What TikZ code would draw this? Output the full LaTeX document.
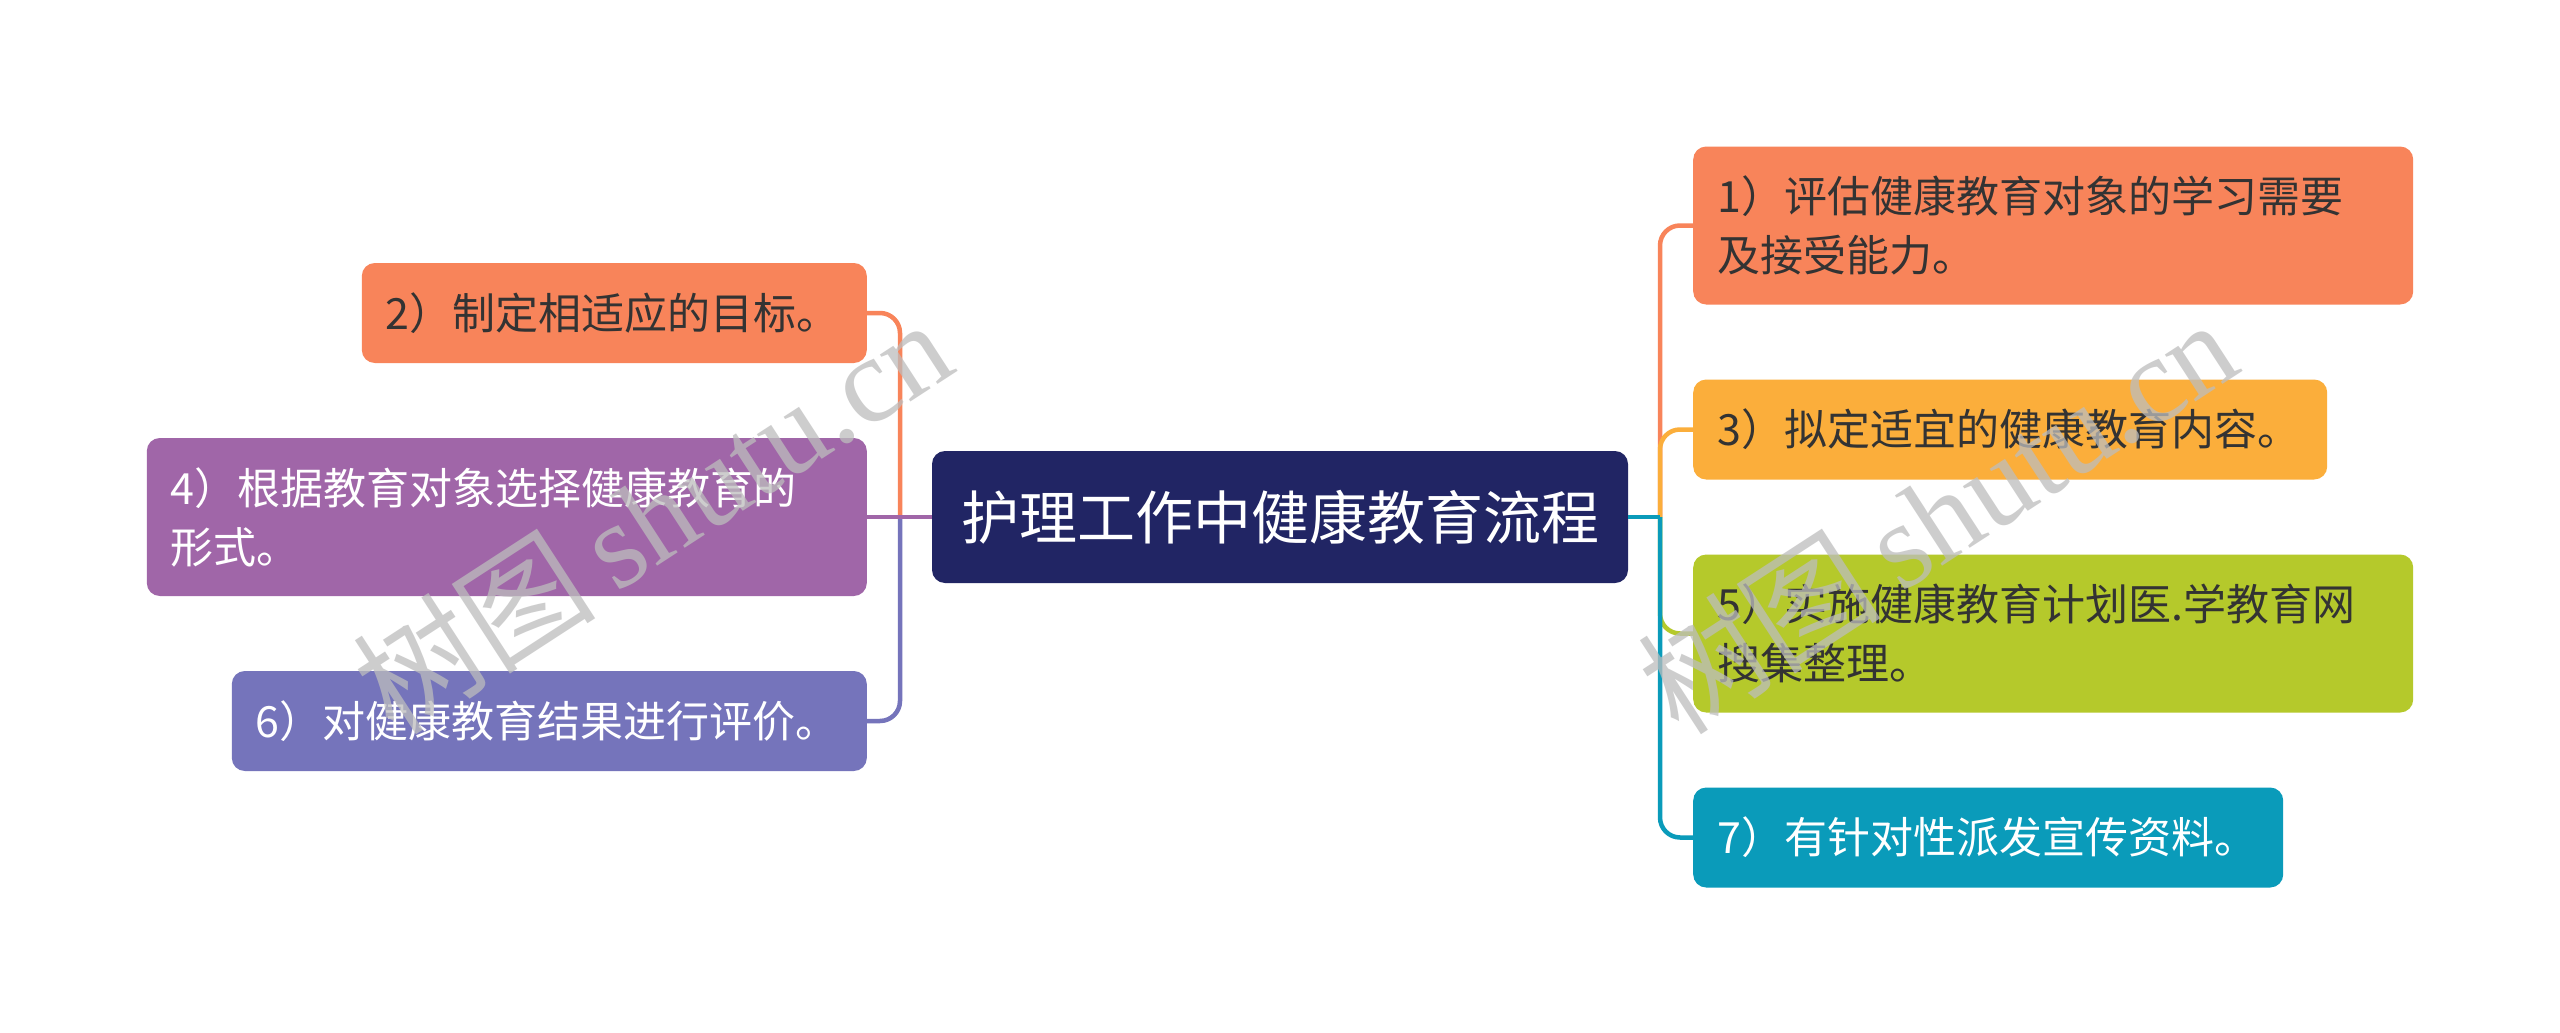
\documentclass[tikz,border=0pt]{standalone}
\usepackage{fontspec}
\setmainfont{Noto Sans CJK SC}
\newfontfamily\wmlatin{Liberation Serif}
\newfontfamily\wmcjk{Noto Sans CJK SC}
\definecolor{cnavy}{HTML}{212564}
\definecolor{corange}{HTML}{F8845A}
\definecolor{cyellow}{HTML}{FBAE3B}
\definecolor{cgreen}{HTML}{B5C92B}
\definecolor{cteal}{HTML}{0A9BBA}
\definecolor{cpurple}{HTML}{A066A8}
\definecolor{cviolet}{HTML}{7574BB}
\definecolor{ctext}{HTML}{333333}
\definecolor{cwm}{HTML}{BDBDBD}
\tikzset{
  box/.style={rounded corners=13pt, inner xsep=24pt, inner ysep=8pt, align=left,
              font=\fontsize{43}{59}\selectfont},
  rbox/.style={box, anchor=west},
  lbox/.style={box, anchor=east},
  link/.style={line width=4.5pt, rounded corners=20pt},
  wm/.style={text=cwm, opacity=0.75, rotate=33, font=\fontsize{122}{122}\selectfont}
}
\begin{document}
\begin{tikzpicture}[x=1pt,y=-1pt]
\useasboundingbox (0,0) rectangle (2560,1033);
\fill[white] (0,0) rectangle (2560,1033);

% central node
\node[rounded corners=13pt, fill=cnavy, text=white, minimum width=696pt, minimum height=132pt,
      font=\fontsize{58}{70}\selectfont] (c) at (1280,517) {护理工作中健康教育流程};

% junctions
\coordinate (jl) at (900,517);
\coordinate (jr) at (1660,517);

% right nodes
\node[rbox, fill=corange, text=ctext, text width=672pt, minimum height=158pt] (n1) at (1693,225.5)
  {1）评估健康教育对象的学习需要\\及接受能力。};
\node[rbox, fill=cyellow, text=ctext, text width=586pt, minimum height=100pt] (n3) at (1693,429.5)
  {3）拟定适宜的健康教育内容。};
\node[rbox, fill=cgreen, text=ctext, text width=672pt, minimum height=158pt] (n5) at (1693,633.5)
  {5）实施健康教育计划医.学教育网\\搜集整理。};
\node[rbox, fill=cteal, text=white, text width=542pt, minimum height=100pt] (n7) at (1693,837.5)
  {7）有针对性派发宣传资料。};

% left nodes
\node[lbox, fill=corange, text=ctext, text width=457pt, minimum height=100pt] (n2) at (867,313)
  {2）制定相适应的目标。};
\node[lbox, fill=cpurple, text=white, text width=672pt, minimum height=158pt] (n4) at (867,517)
  {4）根据教育对象选择健康教育的\\形式。};
\node[lbox, fill=cviolet, text=white, text width=587pt, minimum height=100pt] (n6) at (867,721)
  {6）对健康教育结果进行评价。};

% connectors right
\draw[link, corange] (jr) |- (n1.west);
\draw[link, cyellow] (jr) |- (n3.west);
\draw[link, cgreen] (jr) |- (n5.west);
\draw[link, cteal] (jr) |- (n7.west);
\draw[line width=4.5pt, cteal] (c.east) -- (jr);

% connectors left
\draw[link, corange] (jl) |- (n2.east);
\draw[link, cviolet] (jl) |- (n6.east);
\draw[line width=4.5pt, cpurple] (n4.east) -- (c.west);

% watermarks
\node[wm] (wm1) at (652,515) {\wmcjk 树图\,\wmlatin shutu.cn};
\node[wm] (wm2) at (1937,515) {\wmcjk 树图\,\wmlatin shutu.cn};
\end{tikzpicture}
\end{document}
